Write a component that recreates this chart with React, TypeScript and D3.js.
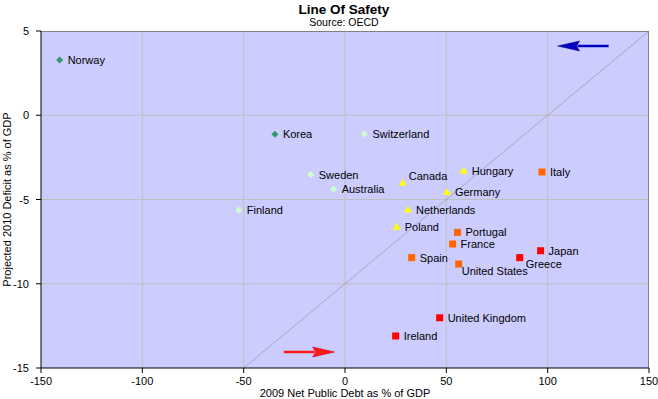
import * as d3 from "d3";

const W = 658;
const H = 399;
const M = { top: 31, right: 9, bottom: 31, left: 41 };
const IW = W - M.left - M.right;
const IH = H - M.top - M.bottom;

const countries = [
  "Norway", "Korea", "Switzerland", "Sweden", "Australia", "Finland",
  "Canada", "Hungary", "Germany", "Netherlands", "Poland",
  "Italy", "Portugal", "France", "Spain", "United States",
  "Japan", "Greece", "United Kingdom", "Ireland",
];
const debt = [
  -140.8, -34.6, 9.6, -16.9, -5.6, -52.4,
  28.5, 58.6, 50.3, 31.1, 25.5,
  97.2, 55.5, 53.1, 32.9, 56.1,
  96.5, 86.2, 46.7, 25.0,
];
const deficit = [
  3.28, -1.13, -1.11, -3.53, -4.38, -5.62,
  -4.0, -3.29, -4.56, -5.6, -6.61,
  -3.37, -6.95, -7.64, -8.45, -8.83,
  -8.04, -8.45, -12.02, -13.1,
];
const group = [
  "dg", "dg", "lg", "lg", "lg", "lg",
  "y", "y", "y", "y", "y",
  "o", "o", "o", "o", "o",
  "r", "r", "r", "r",
];
const labelSide = [
  "right", "right", "right", "right", "right", "right",
  "above", "right", "right", "right", "right",
  "right", "right", "right", "right", "below",
  "right", "belowRight", "right", "right",
];

const xTicks = [-150, -100, -50, 0, 50, 100, 150];
const yTicks = [5, 0, -5, -10, -15];
const safetyLine = [[-50, -15], [150, 5]];
const arrows = [
  { from: [130.1, 4.11], to: [104.9, 4.11], color: "#0000c0", dark: "#000080" },
  { from: [-30.2, -14.05], to: [-5.1, -14.05], color: "#ff1a1a", dark: "#c00000" },
];

const fill: Record<string, string> = {
  dg: "#339966", lg: "#ccffcc", y: "#ffff00", o: "#ff6600", r: "#ff0000",
};

const x = d3.scaleLinear().domain([-150, 150]).range([0, IW]);
const y = d3.scaleLinear().domain([-15, 5]).range([IH, 0]);

const font = "'Liberation Sans', Arial, sans-serif";

function marker(g: string, cx: number, cy: number) {
  const c = fill[g];
  if (g === "dg" || g === "lg") {
    const r = 3.5;
    return <path d={`M${cx},${cy - r}L${cx + r},${cy}L${cx},${cy + r}L${cx - r},${cy}Z`} fill={c} />;
  }
  if (g === "y") {
    return <path d={`M${cx},${cy - 4}L${cx + 4},${cy + 3}L${cx - 4},${cy + 3}Z`} fill={c} />;
  }
  return <rect x={cx - 3.5} y={cy - 3.5} width={7} height={7} fill={c} />;
}

function labelOffset(side: string) {
  if (side === "above") return [6, -7];
  if (side === "below") return [3, 7];
  if (side === "belowRight") return [6, 6];
  return [8, 0];
}

export default function App() {
  const line = d3.line<number[]>().x(d => x(d[0])).y(d => y(d[1]));
  return (
    <svg width={W} height={H} style={{ position: "absolute", left: 0, top: 0 }} fontFamily={font}>
      <rect width={W} height={H} fill="#ffffff" />
      <text x={344} y={14} textAnchor="middle" fontSize={13.5} fontWeight="bold">Line Of Safety</text>
      <text x={344} y={26} textAnchor="middle" fontSize={10.5}>Source: OECD</text>
      <g transform={`translate(${M.left},${M.top})`}>
        <rect width={IW} height={IH} fill="#ccccff" />
        {xTicks.slice(1, -1).map(t => (
          <line key={"gx" + t} x1={x(t)} x2={x(t)} y1={0} y2={IH} stroke="#c0c0c0" />
        ))}
        {yTicks.slice(1, -1).map(t => (
          <line key={"gy" + t} x1={0} x2={IW} y1={y(t)} y2={y(t)} stroke="#c0c0c0" />
        ))}
        <path d={line(safetyLine)!} fill="none" stroke="#a0a0a0" strokeWidth={0.8} />
        <line x1={0} x2={IW} y1={0.5} y2={0.5} stroke="#808080" />
        <line x1={IW - 0.5} x2={IW - 0.5} y1={0} y2={IH} stroke="#808080" />
        <line x1={0} x2={IW} y1={IH} y2={IH} stroke="#000" />
        <line x1={0} x2={0} y1={0} y2={IH} stroke="#000" />
        {xTicks.map(t => (
          <g key={"tx" + t}>
            <line x1={x(t)} x2={x(t)} y1={IH} y2={IH + 5} stroke="#000" />
            <text x={x(t)} y={IH + 17} textAnchor="middle" fontSize={11}>{t}</text>
          </g>
        ))}
        {yTicks.map(t => (
          <g key={"ty" + t}>
            <line x1={-5} x2={0} y1={y(t)} y2={y(t)} stroke="#000" />
            <text x={-12} y={y(t) + 4} textAnchor="end" fontSize={11}>{t}</text>
          </g>
        ))}
        {arrows.map((a, i) => {
          const x1 = x(a.from[0]), x2 = x(a.to[0]), yy = y(a.from[1]);
          const dir = Math.sign(x2 - x1);
          const hb = x2 - dir * 22;
          return (
            <g key={"ar" + i}>
              <line x1={x1} x2={hb + dir * 2} y1={yy} y2={yy} stroke={a.color} strokeWidth={2.5} />
              <path d={`M${x2},${yy}L${hb},${yy - 5}L${hb + dir * 3},${yy}L${hb},${yy + 5}Z`} fill={a.color} stroke={a.dark} strokeWidth={0.5} />
            </g>
          );
        })}
        {countries.map((c, i) => {
          const cx = x(debt[i]), cy = y(deficit[i]);
          const [dx, dy] = labelOffset(labelSide[i]);
          return (
            <g key={c}>
              {marker(group[i], cx, cy)}
              <text x={cx + dx} y={cy + dy + 4} fontSize={11} fill="#000">{c}</text>
            </g>
          );
        })}
      </g>
      <text x={M.left + IW / 2} y={397} textAnchor="middle" fontSize={11}>2009 Net Public Debt as % of GDP</text>
      <text transform={`translate(11,${M.top + IH / 2}) rotate(-90)`} textAnchor="middle" fontSize={11}>Projected 2010 Deficit as % of GDP</text>
    </svg>
  );
}
